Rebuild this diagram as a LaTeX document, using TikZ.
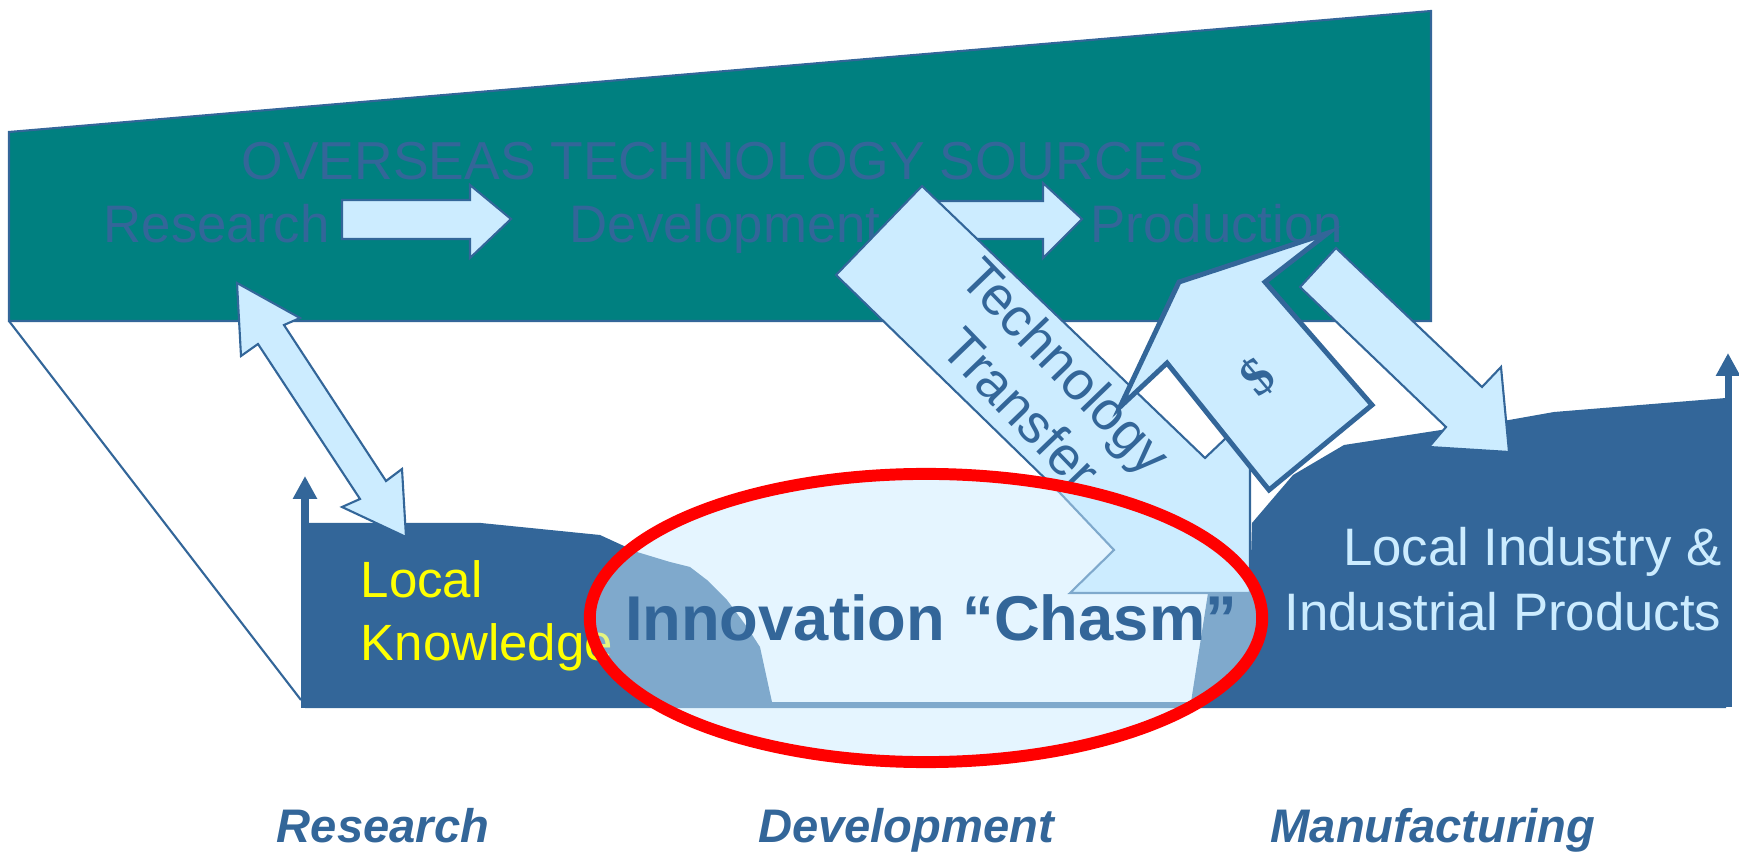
\documentclass[tikz,border=0pt]{standalone}
\usepackage{fontspec}
\setmainfont{Liberation Sans}
\newfontfamily\dollarfont{Liberation Serif}
\usetikzlibrary{arrows.meta}
\definecolor{seateal}{HTML}{008080}
\definecolor{inkblue}{HTML}{336699}
\definecolor{paleblue}{HTML}{CCECFF}
\definecolor{chasmred}{HTML}{FF0000}
\definecolor{knowyellow}{HTML}{FFFF00}

\begin{document}
\begin{tikzpicture}[x=0.01cm,y=-0.01cm,
		blockarrow/.style={fill=paleblue,draw=inkblue,line width=0.6pt},
		axisline/.style={draw=inkblue,line width=2pt,-{Triangle[length=6.5pt,width=6.5pt]}},
		txt/.style={inner sep=0pt,text=inkblue,font=\fontsize{15}{18}\selectfont}]
		\useasboundingbox (0,0) rectangle (1739,852);
		\draw[fill=seateal,draw=inkblue,line width=0.6pt] (9,132) -- (1431,11) -- (1431,321) -- (9,321) -- cycle;
		\draw[draw=inkblue,line width=0.6pt] (9,321) -- (301,700);
		\node[txt,anchor=base west,font=\fontsize{15.2}{18}\selectfont] (srcs) at (241,180) {OVERSEAS TECHNOLOGY SOURCES};
		\node[txt,anchor=base west] (ores) at (103,243) {Research};
		\node[txt,anchor=base west] (odev) at (569,243) {Development};
		\node[txt,anchor=base west] (oprod) at (1090,243) {Production};
		\draw[blockarrow] (342,200) -- (470,200) -- (470,185) -- (511,219)
			-- (470,258) -- (470,239) -- (342,239) -- cycle;
		\draw[blockarrow] (930,201) -- (1043,201) -- (1043,183) -- (1082,219)
			-- (1043,258) -- (1043,239) -- (930,239) -- cycle;
		% local land with the chasm cut out
		\fill[inkblue] (305,523) -- (481,523) -- (600,535) -- (637,552) -- (670,562)
			-- (690,567) -- (707,580) -- (727,600) -- (747,627) -- (760,647)
			-- (770,693) -- (772,702) -- (1191,702) -- (1208,593) -- (1250,593)
			-- (1252,523) -- (1293,475) -- (1344,445) -- (1441,430) -- (1509,420)
			-- (1554,412) -- (1726,398) -- (1726,708) -- (305,708) -- cycle;
		\coordinate (lfoot) at (305,708);
		\coordinate (ltop) at (305,476);
		\coordinate (rfoot) at (1728,707);
		\coordinate (rtop) at (1728,353);
		\draw[axisline] (lfoot) -- (ltop);
		\draw[axisline] (rfoot) -- (rtop);
		\draw[blockarrow] (237,283) -- (300,318) -- (284,325) -- (386,481) -- (402,469)
			-- (406,537) -- (342,507) -- (360,499) -- (258,344) -- (241,356) -- cycle;
		\draw[blockarrow] (922,186) -- (1205,458) -- (1226,438) -- (1250,463)
			-- (1250,593) -- (1070,593) -- (1114,550) -- (1060,493) -- (836,275) -- cycle;
		\node[txt,rotate=-46,align=center,font=\fontsize{15.4}{17.6}\selectfont] (tech) at (1044,387) {Technology\\Transfer};
		\draw[blockarrow,line width=1.4pt] (1328,233) -- (1179,282) -- (1120,407) -- (1167,363)
			-- (1269,490) -- (1372,405) -- (1265,282) -- cycle;
		\node[txt,rotate=40,font=\dollarfont\bfseries\fontsize{15}{18}\selectfont] (dollar) at (1258,377) {\$};
		\draw[blockarrow] (1336,248) -- (1482,387) -- (1501,367) -- (1509,452)
			-- (1429,447) -- (1446,427) -- (1300,287) -- cycle;
		\node[txt,anchor=base west,text=knowyellow,font=\fontsize{14.5}{17}\selectfont] (loc) at (360,597) {Local};
		\node[txt,anchor=base west,text=knowyellow,font=\fontsize{14.5}{17}\selectfont] (know) at (360,660) {Knowledge};
		\node[txt,anchor=base east,text=paleblue] (ind) at (1722,565) {Local Industry \&};
		\node[txt,anchor=base east,text=paleblue] (prods) at (1722,630) {Industrial Products};
		\draw[draw=chasmred,line width=3.4pt,fill=paleblue,fill opacity=0.5] (926,618) ellipse [x radius=3.36cm,y radius=1.44cm];
		\node[txt,anchor=base,font=\bfseries\fontsize{18}{21}\selectfont] (chasm) at (931,640) {Innovation “Chasm”};
		\node[txt,anchor=base,font=\bfseries\itshape\fontsize{13.4}{16}\selectfont] (sres) at (383,842) {Research};
		\node[txt,anchor=base,font=\bfseries\itshape\fontsize{13.4}{16}\selectfont] (sdev) at (906,842) {Development};
		\node[txt,anchor=base,font=\bfseries\itshape\fontsize{13.4}{16}\selectfont] (sman) at (1433,842) {Manufacturing};
\end{tikzpicture}
\end{document}
